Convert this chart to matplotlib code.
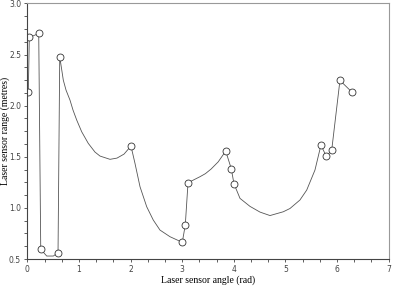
import numpy as np
import matplotlib
matplotlib.use("Agg")
import matplotlib.pyplot as plt
from matplotlib.ticker import MultipleLocator

# range trace (angle in rad, range in metres)
curve_angle = [0.019, 0.039, 0.221, 0.260, 0.376, 0.504, 0.595, 0.628,
               0.653, 0.697, 0.750, 0.827, 0.885, 0.957, 1.054, 1.181,
               1.311, 1.408, 1.602, 1.737, 1.873, 2.008, 2.086, 2.183,
               2.313, 2.440, 2.570, 2.764, 3.002, 3.060, 3.113, 3.215,
               3.345, 3.450, 3.560, 3.699, 3.843, 3.951, 4.003, 4.120,
               4.313, 4.507, 4.701, 4.958, 5.088, 5.281, 5.412, 5.572,
               5.688, 5.791, 5.896, 6.056, 6.283]
curve_range = [2.135, 2.667, 2.706, 0.595, 0.529, 0.529, 0.562, 2.478,
               2.396, 2.250, 2.152, 2.054, 1.957, 1.859, 1.744, 1.631,
               1.546, 1.507, 1.475, 1.487, 1.526, 1.605, 1.435, 1.207,
               1.011, 0.881, 0.783, 0.718, 0.663, 0.832, 1.246, 1.272,
               1.305, 1.335, 1.380, 1.451, 1.556, 1.383, 1.236, 1.093,
               1.015, 0.959, 0.925, 0.962, 0.994, 1.077, 1.174, 1.370,
               1.614, 1.505, 1.563, 2.247, 2.135]

# corner points marked with circles
corner_angle = [0.019, 0.039, 0.221, 0.260, 0.595, 0.628, 2.008, 3.002,
                3.060, 3.113, 3.843, 3.951, 4.003, 5.688, 5.791, 5.896,
                6.056, 6.283]
corner_range = [2.135, 2.667, 2.706, 0.595, 0.562, 2.478, 1.605, 0.663,
                0.832, 1.246, 1.556, 1.383, 1.236, 1.614, 1.505, 1.563,
                2.247, 2.135]

fig = plt.figure(figsize=(3.93, 2.86), dpi=100)
ax = fig.add_axes([0.0695, 0.0944, 0.9195, 0.8936])

ax.plot(curve_angle, curve_range, color="#555555", linewidth=0.6)
ax.plot(corner_angle, corner_range, linestyle="none", marker="o",
        markersize=5, markerfacecolor="white", markeredgecolor="#333333",
        markeredgewidth=0.6)

ax.set_xlim(0, 7)
ax.set_ylim(0.5, 3.0)
ax.xaxis.set_major_locator(MultipleLocator(1))
ax.xaxis.set_minor_locator(MultipleLocator(1 / 3))
ax.yaxis.set_major_locator(MultipleLocator(0.5))
ax.yaxis.set_minor_locator(MultipleLocator(0.125))
ax.yaxis.set_major_formatter(matplotlib.ticker.FormatStrFormatter("%.1f"))

ax.tick_params(which="both", direction="out", length=2.5, width=0.6,
               colors="#444444", labelsize=5.5, pad=2)
for side in ["left", "bottom"]:
    ax.spines[side].set_color("#444444")
    ax.spines[side].set_linewidth(0.8)
for side in ["top", "right"]:
    ax.spines[side].set_color("#999999")
    ax.spines[side].set_linewidth(0.8)

ax.set_xlabel("Laser sensor angle (rad)", family="Liberation Serif",
              fontsize=7, labelpad=1)
ax.set_ylabel("Laser sensor range (metres)", family="Liberation Serif",
              fontsize=7)
# keep the rotated label just inside the left edge
ax.yaxis.set_label_coords(-0.047, 0.5)

fig.savefig("out.png", dpi=100)
